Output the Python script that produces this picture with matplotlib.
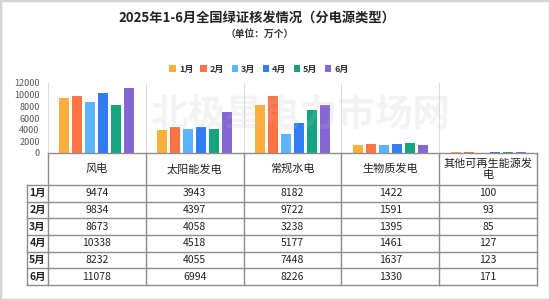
import matplotlib
matplotlib.use("Agg")
import matplotlib.pyplot as plt
from matplotlib.patches import Rectangle, Patch
import numpy as np

plt.rcParams['font.family'] = ['Noto Sans CJK SC', 'DejaVu Sans']

categories = ["风电", "太阳能发电", "常规水电", "生物质发电", "其他可再生能源发电"]
months = ["1月", "2月", "3月", "4月", "5月", "6月"]
values = {
    "1月": [9474, 3943, 8182, 1422, 100],
    "2月": [9834, 4397, 9722, 1591, 93],
    "3月": [8673, 4058, 3238, 1395, 85],
    "4月": [10338, 4518, 5177, 1461, 127],
    "5月": [8232, 4055, 7448, 1637, 123],
    "6月": [11078, 6994, 8226, 1330, 171],
}
colors = ["#FFAF3A", "#FF7345", "#5CB3FF", "#2F7CF4", "#16A47F", "#8567D3"]
yticks = [0, 2000, 4000, 6000, 8000, 10000, 12000]
title = "2025年1-6月全国绿证核发情况（分电源类型）"
subtitle = "（单位：万个）"

W, H = 550, 300
fig = plt.figure(figsize=(W / 100, H / 100), dpi=100)
fig.patch.set_facecolor("white")

def fx(px):
    return px / W

def fy(py):
    return 1 - py / H

# Border
fig.patches.append(Rectangle((0, 0), 1, 1, transform=fig.transFigure,
                             fill=False, edgecolor="#d4d4d4", linewidth=2.5))

# Titles
fig.text(fx(257), fy(18), title, ha="center", va="center", fontsize=9.5,
         fontweight="bold", color="#222222")
fig.text(fx(260), fy(34), subtitle, ha="center", va="center", fontsize=7,
         fontweight="bold", color="#333333")

# Bar axes
x0, x1 = 48, 537
ytop, ybot = 83, 153
ax = fig.add_axes([fx(x0), fy(ybot), fx(x1) - fx(x0), (ybot - ytop) / H])
n = len(categories)
x = np.arange(n)
step = 0.133
bw = 0.102
for j, m in enumerate(months):
    ax.bar(x + (j - 2.5) * step, values[m], width=bw, color=colors[j],
           label=m, zorder=2)
ax.set_xlim(-0.5, n - 0.5)
ax.set_ylim(0, 12000)
ax.set_yticks(yticks)
ax.set_yticklabels([str(v) for v in yticks])
ax.tick_params(axis="y", length=0, pad=6, labelsize=6.5, labelcolor="#555555")
ax.set_xticks([])
for s in ["top", "right", "bottom"]:
    ax.spines[s].set_visible(False)
ax.spines["left"].set_color("#dddddd")
for b in np.arange(0.5, n, 1.0):
    ax.axvline(b, color="#dddddd", linewidth=0.8, zorder=1)

# Legend
handles = [Patch(facecolor=c, edgecolor="none") for c in colors]
fig.legend(handles, months, loc="center", bbox_to_anchor=(fx(259), fy(69)),
           ncol=6, frameon=False, handlelength=0.7, handleheight=0.7,
           handletextpad=0.35, columnspacing=0.8,
           prop={"size": 6.5, "weight": "bold"}, labelcolor="#333333")

# Table (drawn in pixel-like coordinates of its own axes)
tx0, ty0, tx1, ty1 = 27, 153, 537, 285
TW, TH = tx1 - tx0, ty1 - ty0
tax = fig.add_axes([fx(tx0), fy(ty1), TW / W, TH / H])
tax.axis("off")
tax.set_xlim(0, TW)
tax.set_ylim(TH, 0)

def wrap(s, k=8):
    return s if len(s) <= k else s[:k] + "\n" + s[k:]

lc = "#8c8c8c"
lw = 1.0
rw = x0 - tx0
hh = 32
colw = (TW - rw) / n
rh = (TH - hh) / len(months)

# horizontal lines
tax.plot([rw, TW], [0, 0], color=lc, lw=lw, clip_on=False)
for i in range(len(months) + 1):
    yy = hh + i * rh
    tax.plot([0, TW], [yy, yy], color=lc, lw=lw, clip_on=False)
# vertical lines
tax.plot([0, 0], [hh, TH], color=lc, lw=lw, clip_on=False)
for k in range(n + 1):
    xx = rw + k * colw
    tax.plot([xx, xx], [0, TH], color=lc, lw=lw, clip_on=False)

for k, c in enumerate(categories):
    tax.text(rw + (k + 0.5) * colw, hh / 2, wrap(c), ha="center", va="center",
             fontsize=8, color="#222222", linespacing=1.2)
for i, m in enumerate(months):
    yc = hh + (i + 0.5) * rh
    tax.text(rw / 2, yc, m, ha="center", va="center", fontsize=7.5,
             fontweight="bold", color="#222222")
    for k in range(n):
        tax.text(rw + (k + 0.5) * colw, yc, str(values[m][k]), ha="center",
                 va="center", fontsize=7.5, color="#222222")

# Watermark
fig.text(fx(300), fy(115), "北极星电力市场网", ha="center", va="center",
         fontsize=27, fontweight="bold", color="#b8c0cc", alpha=0.18,
         zorder=10)

fig.savefig("out.png", dpi=100)
